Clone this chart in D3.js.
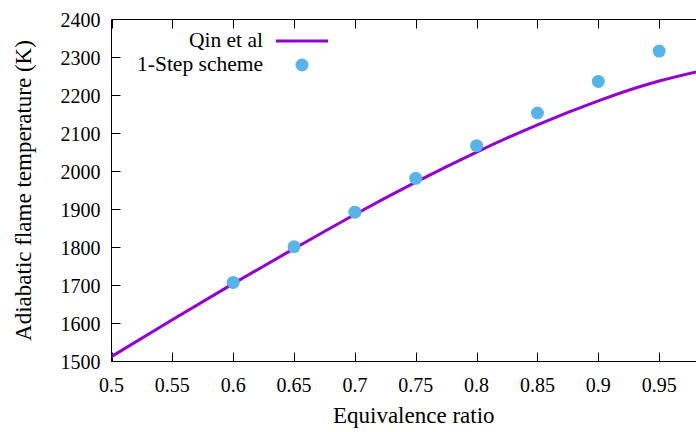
<!DOCTYPE html>
<html><head><meta charset="utf-8">
<script src="https://cdn.jsdelivr.net/npm/d3@7"></script>
<style>html,body{margin:0;padding:0;background:#fff;overflow:hidden}
svg text{font-family:"Liberation Serif","Times New Roman",Times,serif;}</style>
</head><body>
<script>
const lineX = [0.5,0.55,0.6,0.65,0.7,0.75,0.8,0.85,0.9,0.95,1.0];
const lineY = [1513,1610,1705,1797,1887,1972,2051,2123,2186,2238,2276];
const ptsX = [0.6,0.65,0.7,0.75,0.8,0.85,0.9,0.95];
const ptsY = [1708,1802,1893,1982,2068,2154,2237,2317];
const xTicks = [0.5,0.55,0.6,0.65,0.7,0.75,0.8,0.85,0.9,0.95];
const yTicks = [1500,1600,1700,1800,1900,2000,2100,2200,2300,2400];
const seriesNames = ["Qin et al","1-Step scheme"];
const xTitle = "Equivalence ratio";
const yTitle = "Adiabatic flame temperature (K)";

const W=696,H=432;
const L=111.5,R=720,T=19.5,B=361.5;
const fs=20;
const svg=d3.select("body").append("svg").attr("width",W).attr("height",H);
const x=d3.scaleLinear().domain([0.5,1.0]).range([L,R]);
const y=d3.scaleLinear().domain([1500,2400]).range([B,T]);

svg.append("clipPath").attr("id","c").append("rect").attr("x",L).attr("y",T).attr("width",R-L).attr("height",B-T);

const g=svg.append("g");
const tl=9;
xTicks.forEach(v=>{
  const px=Math.round(x(v))+0.5;
  g.append("line").attr("x1",px).attr("x2",px).attr("y1",B).attr("y2",B-tl).attr("stroke","#000");
  g.append("line").attr("x1",px).attr("x2",px).attr("y1",T).attr("y2",T+tl).attr("stroke","#000");
  g.append("text").attr("x",x(v)).attr("y",B+30).attr("text-anchor","middle").attr("font-size",fs).text(d3.format("")(v));
});
yTicks.forEach(v=>{
  const py=Math.round(y(v)-0.5)+0.5;
  g.append("line").attr("x1",L).attr("x2",L+tl).attr("y1",py).attr("y2",py).attr("stroke","#000");
  g.append("text").attr("x",L-11).attr("y",y(v)+7).attr("text-anchor","end").attr("font-size",fs).text(v);
});
g.append("path").attr("d",`M${R},${T}H${L}V${B}H${R}`).attr("fill","none").attr("stroke","#000");

svg.append("text").attr("x",(L+R)/2-2).attr("y",423).attr("text-anchor","middle").attr("font-size",23).text(xTitle);
svg.append("text").attr("transform",`translate(31,${(T+B)/2}) rotate(-90)`).attr("text-anchor","middle").attr("font-size",23).text(yTitle);

const ld=lineX.map((v,i)=>[v,lineY[i]]);
svg.append("path").attr("clip-path","url(#c)").attr("d",d3.line().x(d=>x(d[0])).y(d=>y(d[1])).curve(d3.curveNatural)(ld))
  .attr("fill","none").attr("stroke","#9400d3").attr("stroke-width",3);
svg.append("g").selectAll("circle").data(ptsX.map((v,i)=>[v,ptsY[i]])).join("circle")
  .attr("cx",d=>x(d[0])).attr("cy",d=>y(d[1])).attr("r",6.5).attr("fill","#56b4e9");

svg.append("text").attr("x",263).attr("y",47).attr("text-anchor","end").attr("font-size",21.5).text(seriesNames[0]);
svg.append("line").attr("x1",276).attr("x2",328).attr("y1",41).attr("y2",41).attr("stroke","#9400d3").attr("stroke-width",3);
svg.append("text").attr("x",263).attr("y",71).attr("text-anchor","end").attr("font-size",21.5).text(seriesNames[1]);
svg.append("circle").attr("cx",302).attr("cy",65).attr("r",6.5).attr("fill","#56b4e9");
</script>
</body></html>
